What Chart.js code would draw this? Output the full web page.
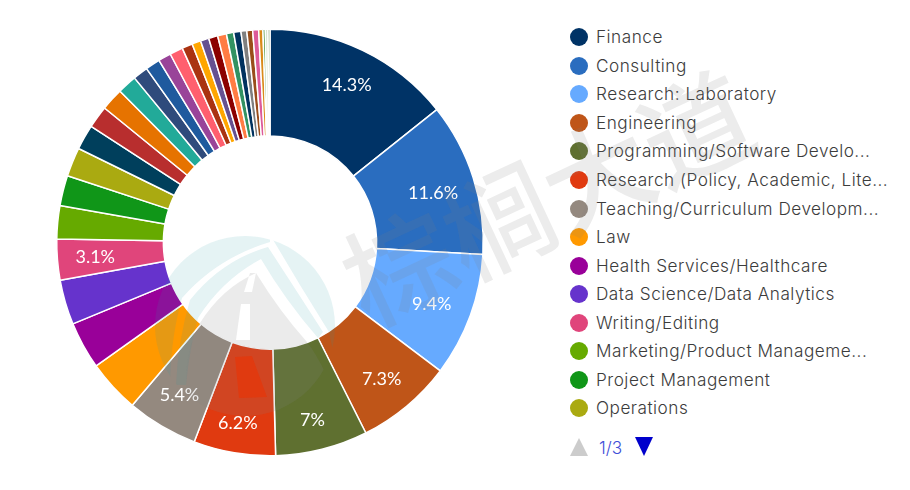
<!DOCTYPE html>
<html lang="en">
<head>
    <meta charset="UTF-8">
    <title>Career fields</title>
    <script src="https://cdn.jsdelivr.net/npm/chart.js"></script>
    <style>
        html, body { margin: 0; padding: 0; background: #fff; }
        #wrap { position: relative; width: 910px; height: 490px; overflow: hidden; }
        #chartBox { position: absolute; left: 0; top: 0; width: 540px; height: 485px; }
        #legend { position: absolute; left: 570px; top: 23px; font-family: Inter, sans-serif; font-size: 17.2px; font-weight: 300; letter-spacing: 0.5px; color: #3c3c3c; }
        .row { height: 28.55px; line-height: 28px; white-space: nowrap; display: flex; align-items: center; }
        .dot { width: 18px; height: 18px; border-radius: 50%; margin-right: 8px; flex: none; }
        #pager { position: absolute; left: 570px; top: 436px; width: 90px; height: 22px; font: 300 17.2px Inter, sans-serif; color: #3f4fd8; }
        #pager span { position: absolute; left: 29px; top: 1px; }
        #mark { position: absolute; left: 0; top: 0; pointer-events: none; }
    </style>
</head>
<body>
<div id="wrap">
    <div id="chartBox"><canvas id="chart"></canvas></div>
    <div id="legend"></div>
    <div id="pager">
        <svg width="90" height="22" style="position:absolute;left:0;top:0">
            <polygon points="0,20 18,20 9,2" fill="#ccc"/>
            <polygon points="65,1 83,1 74,20" fill="#0000cc"/>
        </svg>
        <span>1/3</span>
    </div>
    <!-- watermark on top of the chart -->
    <svg id="mark" width="910" height="490">
        <defs>
            <clipPath id="disc"><circle cx="245" cy="326" r="90"/></clipPath>
        </defs>
        <g clip-path="url(#disc)">
            <g fill="#2a9aa5" opacity="0.12">
                <path d="M270,242 Q217,258 182,298 Q170,340 170,390 L150,390 L150,230 L270,230 Z"/>
                <path d="M272,238 L340,238 L340,385 L329,332 L300,285 Z"/>
                <path d="M268,247 Q222,260 190,300 Q178,340 176,385 L186,385 Q190,345 198,318 Q222,280 261,259 Q285,300 318,338 L323,332 Q296,290 268,247 Z"/>
            </g>
            <path fill-rule="evenodd" fill="#808080" opacity="0.16"
                  d="M256,273 Q222,288 200,323 Q188,345 186,375 L186,420 L325,420 L325,372 Q315,352 307,342 Q280,312 256,273 Z
                     M250,273 L256,273 L252,292 L244,292 Z
                     M241,304 L250,304 L250,340 L236,340 Z
                     M235,357 L252,356 L267,397 L239,398 Z"/>
        </g>
        <text transform="translate(368,328) rotate(-25)" font-family="Noto Sans CJK SC" font-weight="500" font-size="109" fill="#808080" opacity="0.15">棕榈大道</text>
    </svg>
</div>
<script>
    // legend page 1 of 3, the other slices have no readable name
    const categories = [
        "Finance", "Consulting", "Research: Laboratory", "Engineering",
        "Programming/Software Develo...", "Research (Policy, Academic, Lite...",
        "Teaching/Curriculum Developm...", "Law", "Health Services/Healthcare",
        "Data Science/Data Analytics", "Writing/Editing", "Marketing/Product Manageme...",
        "Project Management", "Operations"
    ];
    const shares = [
        14.3, 11.6, 9.4, 7.3, 7, 6.2, 5.4, 4, 3.6, 3.4, 3.1, 2.5, 2.3, 2.2,
        1.9, 1.7, 1.7, 1.47, 1.14, 1.11, 0.97, 1, 0.8, 0.67, 0.64, 0.69, 0.67,
        0.55, 0.55, 0.44, 0.44, 0.45, 0.32, 0.18, 0.2, 0.15
    ];
    const sliceColors = [
        "#003366", "#2a6dbf", "#66aaff", "#bf5518", "#5f7030", "#e03a10", "#94897f", "#ff9900",
        "#990099", "#6633cc", "#e0457b", "#66aa00", "#109618", "#aaaa11",
        "#003f5c", "#b82e2e", "#e67300", "#22aa99", "#2f4b7c", "#1f5a9e", "#994499", "#ff5f6e",
        "#aa3311", "#ffa600", "#665191", "#8b0000", "#ff7c43", "#329262", "#00325f", "#7f7f7f",
        "#994d1a", "#dd5a9a", "#d98a1a", "#3b8a2a", "#cfe0c8", "#6b8e4e"
    ];
    const sliceLabels = ["14.3%", "11.6%", "9.4%", "7.3%", "7%", "6.2%", "5.4%", "", "", "", "3.1%"];

    const legendBox = document.getElementById('legend');
    categories.forEach((name, i) => {
        const row = document.createElement('div');
        row.className = 'row';
        row.innerHTML = `<span class="dot" style="background:${sliceColors[i]}"></span>${name}`;
        legendBox.appendChild(row);
    });

    // small pixel nudges, the original labels are not exactly on one radius
    const labelNudge = { 0: [1, 0], 1: [-3, 4], 2: [-2, 2], 3: [0, 3], 4: [0, 9], 5: [-3, 9], 6: [-2, 3], 10: [-1, 1] };

    const labelPlugin = {
        id: 'sliceLabels',
        afterDatasetsDraw(chart) {
            const ctx = chart.ctx;
            ctx.save();
            ctx.font = '18px Lato';
            ctx.fillStyle = '#fff';
            ctx.textAlign = 'center';
            ctx.textBaseline = 'middle';
            chart.getDatasetMeta(0).data.forEach((arc, i) => {
                if (!sliceLabels[i]) return;
                const mid = (arc.startAngle + arc.endAngle) / 2;
                const r = arc.innerRadius + (arc.outerRadius - arc.innerRadius) * 0.635;
                const [nx, ny] = labelNudge[i];
                ctx.fillText(sliceLabels[i], arc.x + Math.cos(mid) * r + nx, arc.y + Math.sin(mid) * r + ny);
            });
            ctx.restore();
        }
    };

    new Chart(document.getElementById('chart'), {
        type: 'doughnut',
        data: {
            labels: categories,
            datasets: [{
                data: shares,
                backgroundColor: sliceColors,
                borderColor: '#fff',
                borderWidth: 1.5
            }]
        },
        options: {
            responsive: true,
            maintainAspectRatio: false,
            animation: false,
            cutout: '50%',
            layout: { padding: { left: 54, right: 54, top: 28.5, bottom: 28.5 } },
            plugins: { legend: { display: false }, tooltip: { enabled: false } }
        },
        plugins: [labelPlugin]
    });
</script>
</body>
</html>
